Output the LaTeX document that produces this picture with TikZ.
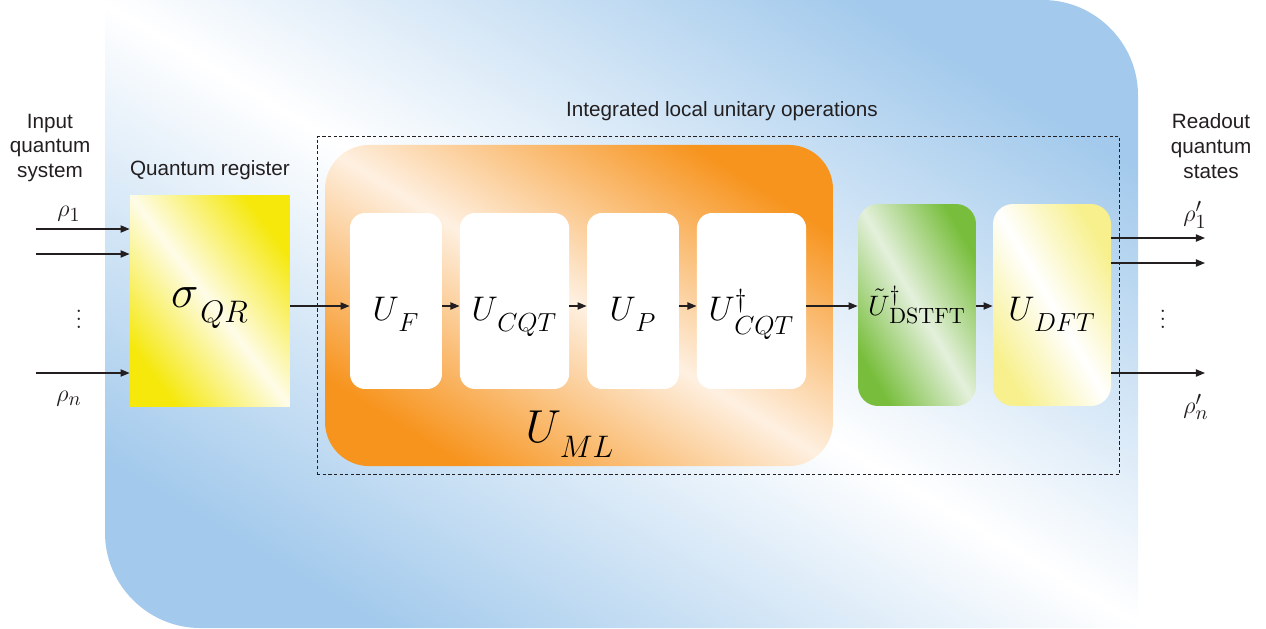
\RequirePackage{fix-cm}
\documentclass[tikz,border=0pt]{standalone}
\usepackage[no-math]{fontspec}
\newfontfamily\labelfont{Liberation Sans}
\usetikzlibrary{arrows.meta}
\DeclareMathSizes{12}{12}{10}{8}
\DeclareMathSizes{14}{14}{11}{9}
\DeclareMathSizes{17}{17}{13}{10}
\DeclareMathSizes{23}{23}{15.5}{12}
\newcommand{\lsub}[1]{_{\lower0.18em\hbox{$\scriptstyle\mkern2mu#1$}}}
\definecolor{bgblue}{RGB}{163,202,236}
\definecolor{umlorange}{RGB}{247,148,30}
\definecolor{umlpale}{RGB}{254,240,225}
\definecolor{dsgreen}{RGB}{120,190,60}
\definecolor{dspale}{RGB}{228,240,220}
\definecolor{dftyellow}{RGB}{247,240,140}
\definecolor{qryellow}{RGB}{245,232,10}
\definecolor{qrpale}{RGB}{254,252,232}
\definecolor{ink}{RGB}{35,31,32}
\begin{document}
\begin{tikzpicture}[x=0.0175cm, y=-0.0175cm,
    txt/.style={font=\labelfont\fontsize{10.3}{12.4}\selectfont, text=ink, align=center},
    rholab/.style={font=\fontsize{12}{14}\selectfont, text=ink},
    opbox/.style={fill=white, rounded corners=7.5pt, minimum height=3.08cm,
        text height=19pt, text depth=0pt, font=\fontsize{17}{20}\selectfont},
    flow/.style={-{Triangle[length=4.5pt,width=3.6pt]}, line width=0.6pt, ink}]
    \useasboundingbox (0,0) rectangle (1266,628);

    % background
    \shade[top color=bgblue, bottom color=bgblue, middle color=white, shading angle=-31]
        (105,0) -- (1043,0) .. controls (1095,0) and (1138,43) .. (1138,95)
        -- (1138,628) -- (200,628) .. controls (148,628) and (105,585) .. (105,533) -- cycle;

    % Texts
    \node[txt] (insys) at (50,148) {Input\\quantum\\system};
    \node[txt] (qrtxt) at (210,170) {Quantum register};
    \node[txt] (title) at (722,111) {Integrated local unitary operations};
    \node[txt] (outst) at (1211,146) {Readout\\quantum\\states};

    % Boxes
    \node[draw=ink, line width=0.5pt, dash pattern=on 1.6pt off 1.2pt,
        minimum width=14.05cm, minimum height=5.9cm] (ilu) at (718.5,305.5) {};
    \node[top color=qryellow, bottom color=qryellow, middle color=qrpale, shading angle=-53,
        minimum width=2.8cm, minimum height=3.71cm, text height=6pt, text depth=0pt,
        font=\fontsize{23}{26}\selectfont] (qr) at (210,301) {$\sigma\lsub{QR}$};
    \node[top color=umlorange, bottom color=umlorange, middle color=umlpale, shading angle=-32,
        rounded corners=22pt, minimum width=8.89cm, minimum height=5.62cm] (uml) at (579,305.5) {};
    \node[font=\fontsize{23}{26}\selectfont, anchor=base] (mltext) at (570,442) {$U\lsub{ML}$};
    \node[opbox, minimum width=1.61cm] (uf) at (396,301) {$U\lsub{F}$};
    \node[opbox, minimum width=1.91cm] (ucqt) at (514.5,301) {$U\lsub{CQT}$};
    \node[opbox, minimum width=1.61cm] (up) at (633,301) {$U\lsub{P}$};
    \node[opbox, minimum width=1.91cm] (ucqtd) at (751.5,301) {$U^{\dagger}\lsub{CQT}$};
    \node[top color=dsgreen, bottom color=dsgreen, middle color=dspale, shading angle=-60,
        rounded corners=10pt, minimum width=2.065cm, minimum height=3.535cm,
        text height=10pt, text depth=0pt, font=\fontsize{14}{16}\selectfont]
        (ds) at (917,305) {$\tilde{U}^{\dagger}\lsub{\mathrm{DSTFT}}$};
    \node[top color=dftyellow, bottom color=dftyellow, middle color=white, shading angle=-60,
        rounded corners=10pt, minimum width=2.065cm, minimum height=3.535cm,
        text height=15pt, text depth=0pt, font=\fontsize{17}{20}\selectfont]
        (dft) at (1052,305) {$U\lsub{DFT}$};

    % Labels
    \node[rholab] (rho1) at (69,214) {$\rho_1$};
    \node[rholab] (rhon) at (69,399) {$\rho_n$};
    \node[rholab] (rhop1) at (1195,215) {$\rho'_1$};
    \node[rholab] (rhopn) at (1196,407) {$\rho'_n$};
    \node[rholab, inner sep=0pt] (indots) at (79,313) {$\vdots$};
    \node[rholab, inner sep=0pt] (outdots) at (1163,313) {$\vdots$};

    % free ends
    \coordinate (in1) at (36,229);
    \coordinate (in2) at (36,254);
    \coordinate (inn) at (36,373);
    \coordinate (out1) at (1205,238);
    \coordinate (out2) at (1205,263);
    \coordinate (outn) at (1205,373);
    \coordinate (row) at (0,306);

    % Edges
    \foreach \i in {in1,in2,inn} {
        \draw[flow] (\i) -- (\i -| qr.west);
    }
    \foreach \i in {out1,out2,outn} {
        \draw[flow] (\i -| dft.east) -- (\i);
    }
    \foreach \a/\b in {qr/uf, uf/ucqt, ucqt/up, up/ucqtd, ucqtd/ds, ds/dft} {
        \draw[flow] (\a.east |- row) -- (\b.west |- row);
    }
\end{tikzpicture}
\end{document}
